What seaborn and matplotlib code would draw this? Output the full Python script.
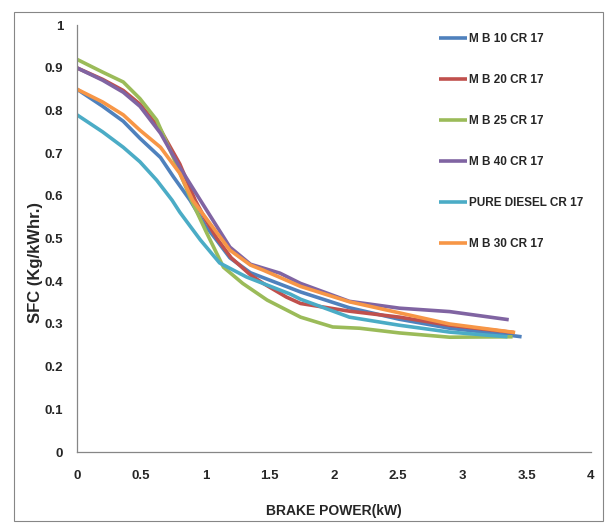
import numpy as np
import pandas as pd
import matplotlib
matplotlib.use('Agg')
import matplotlib.pyplot as plt
import seaborn as sns
from matplotlib.patches import Rectangle
from matplotlib import font_manager

# Datos (SFC vs potencia al freno)
x_mb10 = [0, 0.2, 0.36, 0.49, 0.65, 0.75, 0.88, 1.0, 1.09, 1.19, 1.35, 1.74, 2.12, 2.51, 2.9, 3.2, 3.46]
y_mb10 = [0.85, 0.81, 0.775, 0.735, 0.69, 0.645, 0.59, 0.53, 0.495, 0.455, 0.42, 0.375, 0.338, 0.311, 0.29, 0.28, 0.27]

x_mb20 = [0, 0.2, 0.36, 0.49, 0.65, 0.8, 0.92, 1.0, 1.09, 1.2, 1.35, 1.45, 1.63, 1.74, 2.12, 2.51, 2.9, 3.4]
y_mb20 = [0.9, 0.873, 0.847, 0.815, 0.755, 0.675, 0.59, 0.545, 0.5, 0.455, 0.415, 0.395, 0.363, 0.348, 0.33, 0.316, 0.297, 0.28]

x_mb25 = [0, 0.2, 0.36, 0.49, 0.62, 0.75, 0.89, 1.01, 1.14, 1.29, 1.48, 1.74, 1.99, 2.2, 2.51, 2.9, 3.39]
y_mb25 = [0.92, 0.89, 0.867, 0.828, 0.778, 0.69, 0.59, 0.513, 0.433, 0.395, 0.356, 0.316, 0.293, 0.29, 0.279, 0.269, 0.27]

x_mb40 = [0, 0.2, 0.36, 0.49, 0.65, 0.8, 0.96, 1.19, 1.35, 1.58, 1.74, 2.12, 2.51, 2.9, 3.36]
y_mb40 = [0.9, 0.871, 0.843, 0.81, 0.747, 0.667, 0.59, 0.48, 0.44, 0.419, 0.395, 0.353, 0.337, 0.329, 0.31]

x_diesel = [0, 0.2, 0.36, 0.49, 0.62, 0.74, 0.8, 0.96, 1.11, 1.32, 1.66, 1.74, 2.12, 2.51, 2.9, 3.35]
y_diesel = [0.79, 0.75, 0.714, 0.68, 0.637, 0.59, 0.562, 0.497, 0.443, 0.41, 0.37, 0.358, 0.316, 0.297, 0.281, 0.27]

x_mb30 = [0, 0.2, 0.36, 0.49, 0.65, 0.8, 0.9, 1.19, 1.35, 1.45, 1.74, 2.12, 2.51, 2.9, 3.41]
y_mb30 = [0.85, 0.82, 0.79, 0.754, 0.714, 0.653, 0.59, 0.473, 0.438, 0.426, 0.388, 0.352, 0.326, 0.30, 0.28]

series = ['M B 10 CR 17', 'M B 20 CR 17', 'M B 25 CR 17', 'M B 40 CR 17', 'PURE DIESEL CR 17', 'M B 30 CR 17']
colores = ['#4F81BD', '#C0504D', '#9BBB59', '#8064A2', '#4BACC6', '#F79646']

datos = [(x_mb10, y_mb10), (x_mb20, y_mb20), (x_mb25, y_mb25),
         (x_mb40, y_mb40), (x_diesel, y_diesel), (x_mb30, y_mb30)]

frames = []
for nombre, (xs, ys) in zip(series, datos):
    frames.append(pd.DataFrame({'bp': xs, 'sfc': ys, 'serie': nombre}))
df = pd.concat(frames, ignore_index=True)

sns.set_style('white')
nombres = {f.name for f in font_manager.fontManager.ttflist}
fuente = 'Liberation Sans Narrow' if 'Liberation Sans Narrow' in nombres else 'Liberation Sans'
plt.rcParams['font.family'] = [fuente, 'DejaVu Sans']
tam = 10 if fuente == 'Liberation Sans Narrow' else 8.5

fig = plt.figure(figsize=(6.08, 5.25), dpi=100)
ax = fig.add_axes([0.1266, 0.139, 0.972 - 0.1266, 0.952 - 0.139])

sns.lineplot(data=df, x='bp', y='sfc', hue='serie', hue_order=series,
             palette=colores, estimator=None, sort=False, linewidth=2.6,
             ax=ax, legend=True)
for ln in ax.lines:
    ln.set_solid_joinstyle('round')
    ln.set_solid_capstyle('butt')

ax.set_xlim(0, 4)
ax.set_ylim(0, 1)
ax.set_xticks(np.arange(0, 4.01, 0.5))
ax.set_xticklabels(['0', '0.5', '1', '1.5', '2', '2.5', '3', '3.5', '4'])
ax.set_yticks(np.arange(0, 1.01, 0.1))
ax.set_yticklabels(['0', '0.1', '0.2', '0.3', '0.4', '0.5', '0.6', '0.7', '0.8', '0.9', '1'])

for lab in ax.get_xticklabels() + ax.get_yticklabels():
    lab.set_fontweight('bold')
    lab.set_fontsize(tam + 1)
ax.tick_params(axis='both', direction='out', length=4, width=0.8, color='#868686', pad=6)
ax.tick_params(axis='x', pad=9)

for s in ['top', 'right']:
    ax.spines[s].set_visible(False)
for s in ['left', 'bottom']:
    ax.spines[s].set_color('#868686')
    ax.spines[s].set_linewidth(0.9)

ax.set_xlabel('BRAKE POWER(kW)', fontsize=tam + 1.5, fontweight='bold', labelpad=16)
ax.set_ylabel('SFC (Kg/kWhr.)', fontsize=tam + 3.5, fontweight='bold')
ax.yaxis.set_label_coords(-0.067, 0.445)

leg = ax.legend(loc='upper left', bbox_to_anchor=(0.722, 0.937), bbox_transform=fig.transFigure,
                frameon=False, prop={'weight': 'bold', 'size': tam},
                labelspacing=2.46 * 8.5 / tam, handlelength=2.0 * 10 / tam, handletextpad=0.15,
                borderpad=0, borderaxespad=0)
for h in leg.get_lines():
    h.set_linewidth(2.6)

# Borde exterior del grafico
fig.patches.append(Rectangle((14 / 608, 1 - 521 / 525), 589 / 608, 509 / 525,
                             transform=fig.transFigure, fill=False,
                             edgecolor='#868686', linewidth=0.8))

fig.savefig('out.png', dpi=100)
